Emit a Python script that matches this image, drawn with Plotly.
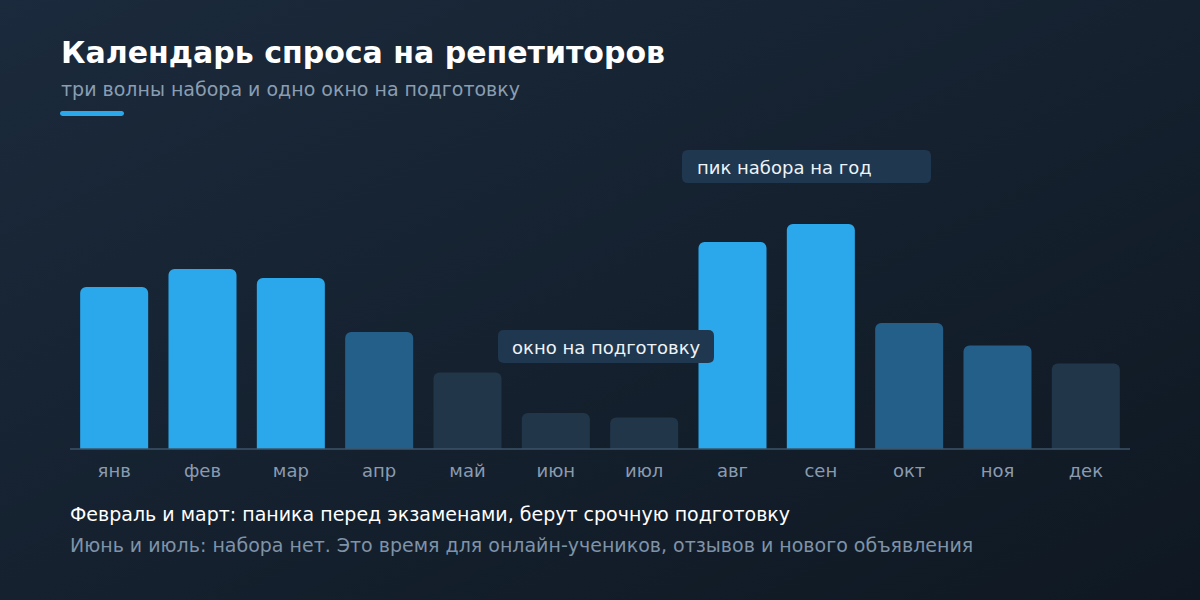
import plotly.graph_objects as go
import base64

months = ["янв", "фев", "мар", "апр", "май", "июн", "июл", "авг", "сен", "окт", "ноя", "дек"]
demand = [72, 80, 76, 52, 34, 16, 14, 92, 100, 56, 46, 38]
tier = ["high", "high", "high", "mid", "low", "low", "low", "high", "high", "mid", "mid", "low"]

title = "Календарь спроса на репетиторов"
subtitle = "три волны набора и одно окно на подготовку"
note_peak = "пик набора на год"
note_window = "окно на подготовку"
footer1 = "Февраль и март: паника перед экзаменами, берут срочную подготовку"
footer2 = "Июнь и июль: набора нет. Это время для онлайн-учеников, отзывов и нового объявления"

tier_colors = {"high": "#2aa8eb", "mid": "#245f8a", "low": "#22364a"}

W, H = 1200, 600
L, R, T, B = 70, 70, 140, 151
PW, PH = W - L - R, H - T - B
YMAX = 100 * PH / 225.0

def px(x):
    return (x - L) / PW

def py(y):
    return (H - B - y) / PH

svg = f'''<svg xmlns="http://www.w3.org/2000/svg" width="{W}" height="{H}">
<defs><linearGradient id="g" x1="0" y1="0" x2="1" y2="1">
<stop offset="0" stop-color="#1b2a3c"/><stop offset="1" stop-color="#0f1822"/>
</linearGradient></defs><rect width="{W}" height="{H}" fill="url(#g)"/></svg>'''
bg_uri = "data:image/svg+xml;base64," + base64.b64encode(svg.encode()).decode()

fig = go.Figure()
fig.add_trace(go.Bar(
    x=months, y=demand,
    marker=dict(color=[tier_colors[t] for t in tier], cornerradius=6, line=dict(width=0)),
    hoverinfo="skip",
))

def rrect(x0, y0, x1, y1, r, color):
    def P(x, y):
        return f"{px(x):.5f},{py(y):.5f}"
    path = (f"M {P(x0 + r, y0)} L {P(x1 - r, y0)} Q {P(x1, y0)} {P(x1, y0 + r)} "
            f"L {P(x1, y1 - r)} Q {P(x1, y1)} {P(x1 - r, y1)} "
            f"L {P(x0 + r, y1)} Q {P(x0, y1)} {P(x0, y1 - r)} "
            f"L {P(x0, y0 + r)} Q {P(x0, y0)} {P(x0 + r, y0)} Z")
    return dict(type="path", xref="paper", yref="paper", path=path,
                fillcolor=color, line=dict(width=0), layer="above")

shapes = [
    rrect(682, 150, 931, 183, 6, "#1f374f"),
    rrect(498, 330, 714, 363, 6, "#1f374f"),
    rrect(60, 111, 124, 116, 2.5, "#2aa8eb"),
    dict(type="line", xref="paper", yref="paper", x0=0, x1=1, y0=0, y1=0,
         line=dict(color="#3d5569", width=1.5), layer="above"),
]

annotations = [
    dict(text=f"<b>{title}</b>", x=px(59), y=py(52), xref="paper", yref="paper",
         xanchor="left", yanchor="middle", showarrow=False,
         font=dict(size=30, color="#ffffff", family="DejaVu Sans")),
    dict(text=subtitle, x=px(59), y=py(89), xref="paper", yref="paper",
         xanchor="left", yanchor="middle", showarrow=False,
         font=dict(size=19, color="#8a9eb2", family="DejaVu Sans")),
    dict(text=note_peak, x=px(695), y=py(167), xref="paper", yref="paper",
         xanchor="left", yanchor="middle", showarrow=False,
         font=dict(size=18, color="#eef3f7", family="DejaVu Sans")),
    dict(text=note_window, x=px(510), y=py(347), xref="paper", yref="paper",
         xanchor="left", yanchor="middle", showarrow=False,
         font=dict(size=18, color="#eef3f7", family="DejaVu Sans")),
    dict(text=footer1, x=px(68), y=py(514), xref="paper", yref="paper",
         xanchor="left", yanchor="middle", showarrow=False,
         font=dict(size=19, color="#ffffff", family="DejaVu Sans")),
    dict(text=footer2, x=px(68), y=py(545), xref="paper", yref="paper",
         xanchor="left", yanchor="middle", showarrow=False,
         font=dict(size=19, color="#7f93a8", family="DejaVu Sans")),
]

fig.update_layout(
    width=W, height=H,
    margin=dict(l=L, r=R, t=T, b=B),
    paper_bgcolor="#15202d", plot_bgcolor="rgba(0,0,0,0)",
    bargap=0.23, showlegend=False,
    font=dict(family="DejaVu Sans"),
    xaxis=dict(showgrid=False, zeroline=False, showline=False, ticks="",
               tickfont=dict(size=18, color="#8a9bb0"), ticklabelstandoff=9,
               fixedrange=True),
    yaxis=dict(range=[0, YMAX], visible=False, fixedrange=True),
    shapes=shapes, annotations=annotations,
    images=[dict(source=bg_uri, xref="paper", yref="paper",
                 x=-L / PW, y=1 + T / PH, sizex=W / PW, sizey=H / PH,
                 xanchor="left", yanchor="top", sizing="stretch", layer="below")],
)

fig.write_html("out.html", config=dict(displayModeBar=False),
               post_script="document.body.style.margin='0';document.body.style.background='#15202d';")
